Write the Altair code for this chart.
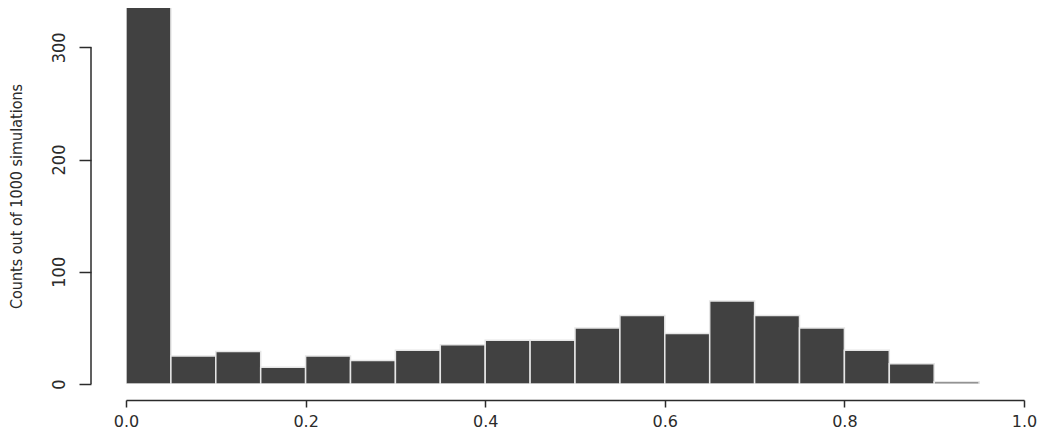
import altair as alt
import pandas as pd

bin_start = [0.00, 0.05, 0.10, 0.15, 0.20, 0.25, 0.30, 0.35, 0.40, 0.45,
             0.50, 0.55, 0.60, 0.65, 0.70, 0.75, 0.80, 0.85, 0.90]
bin_end = [0.05, 0.10, 0.15, 0.20, 0.25, 0.30, 0.35, 0.40, 0.45, 0.50,
           0.55, 0.60, 0.65, 0.70, 0.75, 0.80, 0.85, 0.90, 0.95]
counts = [351, 25, 29, 15, 25, 21, 30, 35, 39, 39,
          50, 61, 45, 74, 61, 50, 30, 18, 2]
y_ticks = [0, 100, 200, 300]
x_ticks = [0.0, 0.2, 0.4, 0.6, 0.8, 1.0]

df = pd.DataFrame({"start": bin_start, "end": bin_end, "count": counts})
axis_df = pd.DataFrame({"lo": [min(y_ticks)], "hi": [max(y_ticks)]})

TXT = "#2b2b2b"
NARROW = "DejaVu Sans Condensed, sans-serif"

xscale = alt.Scale(domain=[0, 1], nice=False, zero=False)
yscale = alt.Scale(domain=[0, 335], nice=False)

bars = alt.Chart(df).mark_bar(
    color="#414141", stroke="#e6e6e6", strokeWidth=1.5, clip=True
).encode(
    x=alt.X("start:Q", scale=xscale, axis=alt.Axis(
        values=x_ticks, format=".1f", title=None, offset=16,
        tickSize=7, tickWidth=1.5, tickColor=TXT,
        domainColor=TXT, domainWidth=1.5, grid=False,
        labelFont="DejaVu Sans", labelFontSize=16, labelColor=TXT,
        labelPadding=6, labelFlush=False,
    )),
    x2="end:Q",
    y=alt.Y("count:Q", scale=yscale, axis=alt.Axis(
        values=y_ticks, title="Counts out of 1000 simulations", offset=35,
        domain=False, tickSize=12, tickWidth=1.5, tickColor=TXT, grid=False,
        labelAngle=270, labelAlign="center", labelBaseline="bottom",
        labelFont=NARROW, labelFontSize=18, labelColor=TXT, labelPadding=11,
        titleFont=NARROW, titleFontSize=16, titleFontWeight="normal",
        titleColor=TXT, titlePadding=26,
    )),
    y2=alt.datum(0),
)

yline = alt.Chart(axis_df).mark_rule(color=TXT, strokeWidth=1.5).encode(
    x=alt.value(-35),
    y=alt.Y("lo:Q", scale=yscale),
    y2="hi:Q",
)

chart = alt.layer(bars, yline).properties(
    width=898, height=376,
    autosize=alt.AutoSizeParams(type="none"),
    padding={"left": 118, "top": 0, "right": 15, "bottom": 45},
).configure_view(stroke=None)

chart.save("out.html", embed_options={"renderer": "svg", "actions": False})
